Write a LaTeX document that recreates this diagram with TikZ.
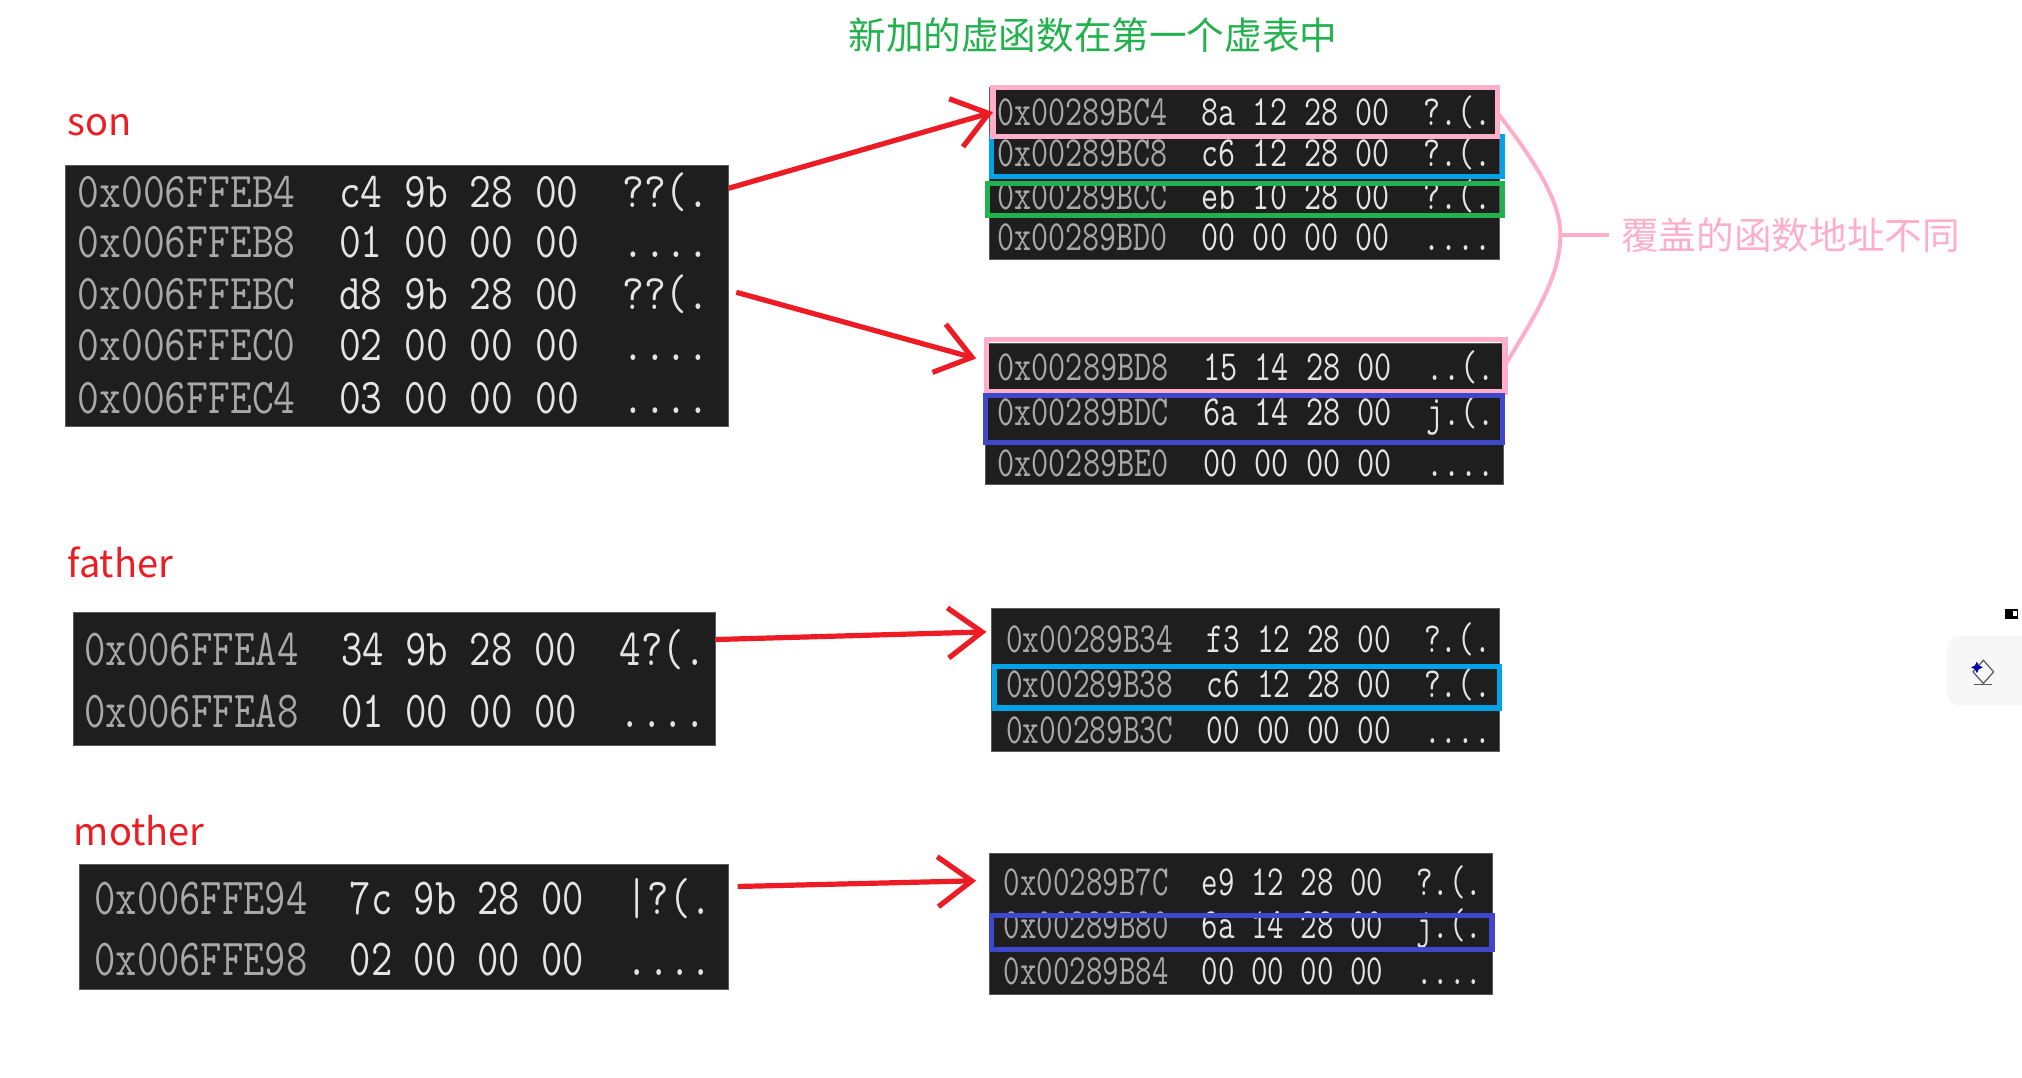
\documentclass[tikz,border=0pt]{standalone}
\usepackage{fontspec}
\usetikzlibrary{arrows.meta,positioning,fit,calc}
\newfontfamily\cjk{Noto Sans CJK SC}
\definecolor{panelDark}{HTML}{1E1E1E}
\definecolor{panelEdge}{HTML}{5A5A5A}
\definecolor{addrGray}{HTML}{A8A8A8}
\definecolor{byteWhite}{HTML}{E4E4E4}
\definecolor{markRed}{HTML}{ED1C24}
\definecolor{markPink}{HTML}{FFAEC9}
\definecolor{markCyan}{HTML}{00A2E8}
\definecolor{markGreen}{HTML}{22B14C}
\definecolor{markBlue}{HTML}{3F48CC}
\newcommand{\memrow}[4]{\scalebox{#1}[1]{\ttfamily\textcolor{addrGray}{#2}\textcolor{byteWhite}{\ \ #3\ \ #4}}}

\begin{document}
\begin{tikzpicture}[
  x=0.6447pt, y=-0.6447pt,
  panel/.style={draw=panelEdge, line width=0.5pt, fill=panelDark, inner sep=0pt, outer sep=0pt},
  memtext/.style={anchor=west, inner sep=0pt, font=\fontsize{#1}{#1}\selectfont},
  hlbox/.style={draw=#1, line width=2.6pt, inner sep=0pt, outer sep=0pt},
  namelabel/.style={anchor=west, inner sep=0pt, text=markRed, font=\cjk\fontsize{19}{19}\selectfont},
  note/.style={inner sep=0pt, font=\cjk\fontsize{18.8}{18.8}\selectfont},
  redarrow/.style={draw=markRed, line width=2.6pt, -{Straight Barb[length=17pt,width=25pt,line width=2.6pt]}}
]
  \useasboundingbox (0,0) rectangle (1568,835.2);

  % Titles
  \node[note, text=markGreen, anchor=center] (newtitle) at (847.5,27) {新加的虚函数在第一个虚表中};
  \node[note, text=markPink, anchor=west] (difflabel) at (1257,182) {覆盖的函数地址不同};
  \node[namelabel] (sonlabel) at (52,97) {son};
  \node[namelabel] (fatherlabel) at (52,436) {father};
  \node[namelabel] (motherlabel) at (57,644) {mother};

  % Object panels
  \node[panel, fit={(51,128)(565,331)}] (sonpanel) {};
  \node[panel, fit={(57,475)(555,578)}] (fatherpanel) {};
  \node[panel, fit={(62,670)(565,767)}] (motherpanel) {};

  % Vtable panels
  \node[panel, fit={(767,68)(1163,201)}] (sontaba) {};
  \node[panel, fit={(764,266)(1166,376)}] (sontabb) {};
  \node[panel, fit={(769,472)(1163,583)}] (fathertab) {};
  \node[panel, fit={(767,662)(1157,771)}] (mothertab) {};

  % Object rows
  \foreach \rowy/\addr/\bytes/\asc [count=\i] in {149/0x006FFEB4/c4 9b 28 00/{??(.}, 188/0x006FFEB8/01 00 00 00/{....}, 228/0x006FFEBC/d8 9b 28 00/{??(.}, 268/0x006FFEC0/02 00 00 00/{....}, 309/0x006FFEC4/03 00 00 00/{....}} {
    \node[memtext=25] (sonrow\i) at (60,\rowy) {\memrow{.846}{\addr}{\bytes}{\asc}};
  }
  \foreach \rowy/\addr/\bytes/\asc [count=\i] in {504/0x006FFEA4/34 9b 28 00/{4?(.}, 552/0x006FFEA8/01 00 00 00/{....}} {
    \node[memtext=26] (fatherrow\i) at (65,\rowy) {\memrow{.80}{\addr}{\bytes}{\asc}};
  }
  \foreach \rowy/\addr/\bytes/\asc [count=\i] in {697/0x006FFE94/7c 9b 28 00/{|?(.}, 744/0x006FFE98/02 00 00 00/{....}} {
    \node[memtext=26] (motherrow\i) at (73,\rowy) {\memrow{.795}{\addr}{\bytes}{\asc}};
  }

  % Vtable rows
  \foreach \rowy/\addr/\bytes/\asc [count=\i] in {87/0x00289BC4/8a 12 28 00/{?.(.}, 119/0x00289BC8/c6 12 28 00/{?.(.}, 152/0x00289BCC/eb 10 28 00/{?.(.}, 184/0x00289BD0/00 00 00 00/{....}} {
    \node[memtext=21.5] (sontabarow\i) at (773,\rowy) {\memrow{.77}{\addr}{\bytes}{\asc}};
  }
  \foreach \rowy/\addr/\bytes/\asc [count=\i] in {285/0x00289BD8/15 14 28 00/{..(.}, 322/0x00289BDC/6a 14 28 00/{j.(.}, 359/0x00289BE0/00 00 00 00/{....}} {
    \node[memtext=21.5] (sontabbrow\i) at (773,\rowy) {\memrow{.775}{\addr}{\bytes}{\asc}};
  }
  \foreach \rowy/\addr/\bytes/\asc [count=\i] in {496/0x00289B34/f3 12 28 00/{?.(.}, 531/0x00289B38/c6 12 28 00/{?.(.}, 566/0x00289B3C/00 00 00 00/{....}} {
    \node[memtext=21.5] (fathertabrow\i) at (780,\rowy) {\memrow{.755}{\addr}{\bytes}{\asc}};
  }
  \foreach \rowy/\addr/\bytes/\asc [count=\i] in {684/0x00289B7C/e9 12 28 00/{?.(.}, 720/0x00289B80/6a 14 28 00/{j.(.}, 753/0x00289B84/00 00 00 00/{....}} {
    \node[memtext=21.5] (mothertabrow\i) at (778,\rowy) {\memrow{.745}{\addr}{\bytes}{\asc}};
  }

  % Highlight boxes
  \node[hlbox=markCyan, fit={(769,106)(1165,137)}] (cyana) {};
  \node[hlbox=markGreen, fit={(766,142)(1165,167)}] (greena) {};
  \node[hlbox=markPink, fit={(770,68)(1161,106)}] (pinka) {};
  \node[hlbox=markPink, fit={(765,263)(1167,304)}] (pinkb) {};
  \node[hlbox=markBlue, fit={(764,307)(1165,343)}] (bluea) {};
  \node[hlbox=markCyan, fit={(771,517)(1163,549)}] (cyanb) {};
  \node[hlbox=markBlue, fit={(769,710)(1157,736)}] (blueb) {};

  % Arrows from objects to vtables
  \coordinate (sontipb) at (757,278);
  \coordinate (fathertip) at (765,490);
  \coordinate (mothertip) at (757,683);
  \draw[redarrow] (sonpanel.18) -- (pinka.west);
  \draw[redarrow, shorten <=4pt] (sonpanel.1) -- (sontipb);
  \draw[redarrow] (fatherpanel.7) -- (fathertip);
  \draw[redarrow, shorten <=4.5pt] (motherpanel.7) -- (mothertip);

  % Brace joining the overridden entries
  \coordinate (pinkjoin) at (1210,182);
  \draw[draw=markPink, line width=2pt] (pinka.east) .. controls (1190,125) and (1210,155) .. (pinkjoin) .. controls (1210,215) and (1190,245) .. (pinkb.east);
  \draw[draw=markPink, line width=2pt, shorten >=6pt] (pinkjoin) -- (difflabel.west);

  % Screenshot widgets at the right edge
  \fill[black!3, rounded corners=6pt] (1510,493) rectangle (1600,547);
  \fill[black] (1555,472) rectangle (1565,480);
  \fill[white] (1561,474) rectangle (1564,478);
  \draw[black!65, line width=0.6pt] (1538,512) -- (1546,521) -- (1538,530) -- (1530,521) -- cycle;
  \draw[black!65, line width=0.6pt] (1531,531) -- (1545,531);
  \fill[blue!70!black] (1533,513) -- (1534.5,516) -- (1537.5,517.5) -- (1534.5,519) -- (1533,522) -- (1531.5,519) -- (1528.5,517.5) -- (1531.5,516) -- cycle;
\end{tikzpicture}
\end{document}
